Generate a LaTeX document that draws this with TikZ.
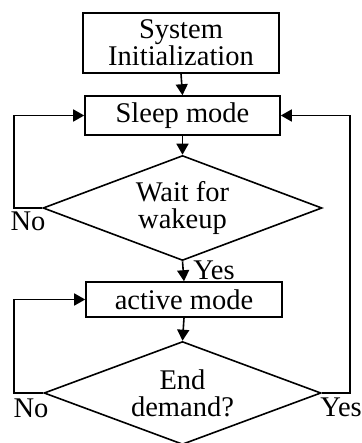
\documentclass[tikz,border=0pt]{standalone}
\usepackage{fontspec}
\setmainfont{Liberation Serif}
\usetikzlibrary{shapes.geometric,arrows.meta}
\begin{document}
\begin{tikzpicture}[x=1pt,y=1pt,
  every node/.style={font=\fontsize{28.5}{27}\selectfont},
  procbox/.style={draw,line width=1.6pt,rectangle,inner sep=0pt,align=center},
  decbox/.style={draw,line width=1.6pt,diamond,aspect=2.66,inner sep=0pt,align=center},
  link/.style={line width=1.6pt,-{Triangle[length=11pt,width=12pt]}},
  lbl/.style={inner sep=0pt}]
\useasboundingbox (0,0) rectangle (361,-443);
\begin{scope}
\clip (0,0) rectangle (361,-443);
\node[procbox,minimum width=196pt,minimum height=60pt] (b1) at (181,-43) {System\\Initialization};
\node[procbox,minimum width=195pt,minimum height=39pt] (b2) at (182.5,-115.5) {Sleep mode};
\node[decbox,minimum width=279pt,minimum height=105pt] (d1) at (182.5,-208) {Wait for\\wakeup};
\node[procbox,minimum width=196pt,minimum height=35pt] (b3) at (184,-299.5) {active mode};
\node[decbox,minimum width=277pt,minimum height=103pt] (d2) at (182.5,-393) {End\\demand?};
\coordinate (lx) at (14,0);
\coordinate (rx) at (350,0);
\draw[link] (b1.south) -- (b2.north);
\draw[link] (b2.south) -- (d1.north);
\draw[link] (d1.south) -- (b3.north);
\draw[link] (b3.south) -- (d2.north);
\draw[link] (d1.west) -- (d1.west -| lx) |- (b2.west);
\draw[link] (d2.west) -- (d2.west -| lx) |- (b3.west);
\draw[link] (d2.east) -- (d2.east -| rx) |- (b2.east);
\node[lbl] (n1) at (28,-221) {No};
\node[lbl] (y1) at (214,-270) {Yes};
\node[lbl] (n2) at (31,-408) {No};
\node[lbl] (y2) at (341,-407) {Yes};
\end{scope}
\end{tikzpicture}
\end{document}
